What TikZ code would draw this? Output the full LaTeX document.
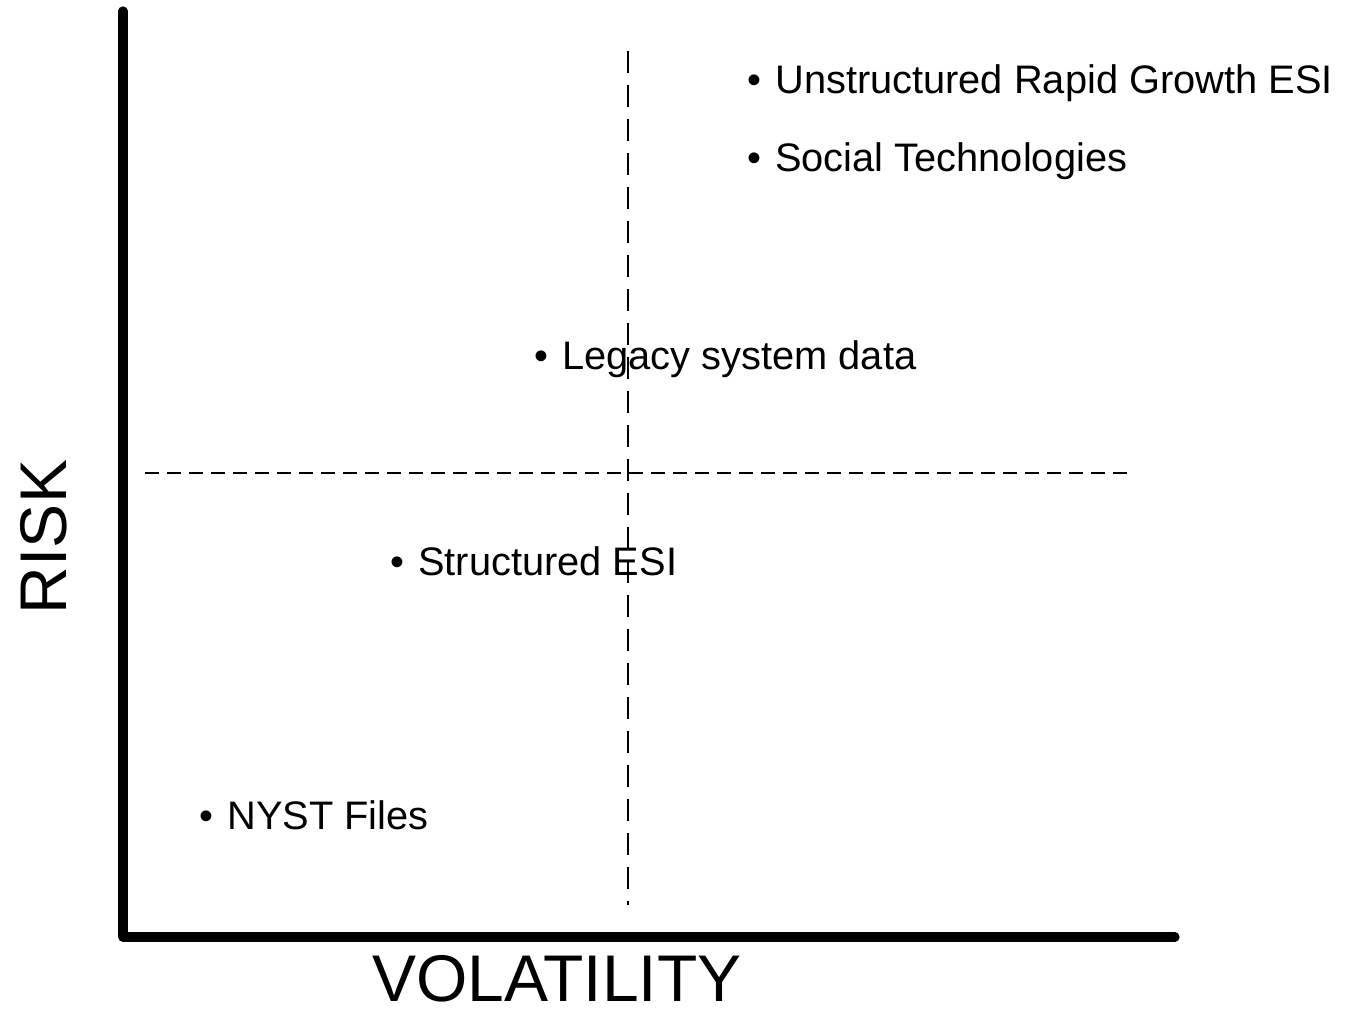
\documentclass[tikz,border=0pt]{standalone}
\usepackage{fontspec}
\setmainfont{Liberation Sans}
\newfontfamily\axisfont{Liberation Sans}

\tikzset{
  axisline/.style={line width=4.6pt,line cap=round,line join=round},
  quadline/.style={line width=1pt},
  itemlabel/.style={anchor=base west,inner sep=0pt,font=\fontsize{19.9}{23}\selectfont},
  axislabel/.style={inner sep=0pt,font=\axisfont\fontsize{33}{36}\selectfont}
}
\newcommand{\bulletitem}[1]{\textbullet\hspace{7pt}#1}

\begin{document}
\begin{tikzpicture}[x=0.5pt,y=0.5pt]
        \useasboundingbox (0,0) rectangle (1349,1016);
        % axes
        \coordinate (top) at (123,1005);
        \coordinate (origin) at (123,79);
        \coordinate (right) at (1175,79);
        \draw[axisline] (top) -- (origin) -- (right);
        % quadrant lines
        \coordinate (vtop) at (628,965);
        \coordinate (vbot) at (628,111);
        \coordinate (hleft) at (145,543);
        \coordinate (hright) at (1128,543);
        \draw[quadline,dash pattern=on 11pt off 6pt] (vtop) -- (vbot);
        \draw[quadline,dash pattern=on 7pt off 4pt] (hleft) -- (hright);
        % items
        \node[itemlabel] (unstructured) at (747,922) {\bulletitem{Unstructured Rapid Growth ESI}};
        \node[itemlabel] (social) at (747,844) {\bulletitem{Social Technologies}};
        \node[itemlabel] (legacy) at (534,646) {\bulletitem{Legacy system data}};
        \node[itemlabel] (structured) at (390,440) {\bulletitem{Structured ESI}};
        \node[itemlabel] (nyst) at (199,186) {\bulletitem{NYST Files}};
        % axis titles
        \node[axislabel,rotate=90] (risk) at (44,479) {RISK};
        \node[axislabel] (volatility) at (557,37) {VOLATILITY};
    \end{tikzpicture}
\end{document}
